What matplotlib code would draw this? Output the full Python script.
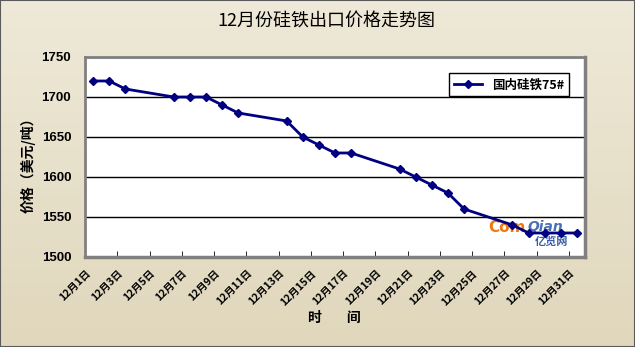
import numpy as np
import matplotlib
matplotlib.use('Agg')
import matplotlib.pyplot as plt
from matplotlib.ticker import FixedLocator, FixedFormatter
import matplotlib.transforms as mtransforms

plt.rcParams['font.family'] = ['Noto Sans CJK SC', 'DejaVu Sans']

# data
days = [1, 2, 3, 6, 7, 8, 9, 10, 13, 14, 15, 16, 17, 20, 21, 22, 23, 24, 27, 28, 29, 30, 31]
prices = [1720, 1720, 1710, 1700, 1700, 1700, 1690, 1680, 1670, 1650, 1640, 1630, 1630,
          1610, 1600, 1590, 1580, 1560, 1540, 1530, 1530, 1530, 1530]
label_days = list(range(1, 32, 2))
tick_labels = ['12月%d日' % d for d in label_days]
series_name = '国内硅铁75#'

fig = plt.figure(figsize=(6.35, 3.47), dpi=100)

# beige gradient background
bg = fig.add_axes([0, 0, 1, 1], zorder=-10)
top = np.array([238, 233, 216]) / 255
bot = np.array([224, 215, 188]) / 255
t = np.linspace(0, 1, 200)[:, None]
grad = (top * (1 - t) + bot * t)[:, None, :].repeat(2, axis=1)
bg.imshow(grad, aspect='auto', extent=[0, 1, 0, 1])
bg.set_xlim(0, 1)
bg.set_ylim(0, 1)
bg.set_axis_off()
bg.add_patch(plt.Rectangle((0, 0), 1, 1, fill=False, edgecolor='#5a5a5a', lw=1.5,
                           transform=bg.transAxes, clip_on=False))

ax = fig.add_axes([0.1339, 0.2594, 0.7874, 0.5764])
ax.set_facecolor('white')
ax.plot(days, prices, color='#000080', lw=2, marker='D', markersize=4,
        label=series_name, zorder=3)

ax.set_xlim(0.5, 31.5)
ax.set_ylim(1500, 1750)
ax.set_yticks([1500, 1550, 1600, 1650, 1700, 1750])
ax.yaxis.grid(True, color='black', lw=1)
ax.set_axisbelow(True)
ax.tick_params(axis='y', length=0, pad=10)
for lab in ax.get_yticklabels():
    lab.set_family('Liberation Sans')
    lab.set_fontweight('bold')
    lab.set_fontsize(9.5)

ax.xaxis.set_major_locator(FixedLocator(label_days))
ax.xaxis.set_major_formatter(FixedFormatter(tick_labels))
ax.xaxis.set_minor_locator(FixedLocator(np.arange(2.5, 31, 2)))
ax.tick_params(axis='x', which='major', length=0, pad=8)
ax.tick_params(axis='x', which='minor', length=4, direction='in', color='black')
offset = mtransforms.ScaledTranslation(-8 / 100, 0, fig.dpi_scale_trans)
for lab in ax.get_xticklabels():
    lab.set_rotation(45)
    lab.set_ha('right')
    lab.set_va('top')
    lab.set_rotation_mode('anchor')
    lab.set_fontsize(7.5)
    lab.set_fontweight('bold')
    lab.set_transform(lab.get_transform() + offset)

for side in ['left', 'top']:
    ax.spines[side].set_color('#808080')
    ax.spines[side].set_linewidth(2)
for side in ['right', 'bottom']:
    ax.spines[side].set_color('#808080')
    ax.spines[side].set_linewidth(2.5)

leg = ax.legend(loc='upper right', bbox_to_anchor=(0.98, 0.95), fancybox=False,
                frameon=True, edgecolor='black', framealpha=1, borderpad=0.4,
                handlelength=2.2, prop={'weight': 'bold', 'size': 9})
leg.get_frame().set_linewidth(1)

# watermark logo
ax.text(0.806, 0.125, 'Com', transform=ax.transAxes, color='#f07810', fontsize=11,
        fontweight='bold', family='DejaVu Sans', zorder=2)
ax.text(0.885, 0.13, 'Qian', transform=ax.transAxes, color='#4a6fb5', fontsize=10,
        fontstyle='italic', fontweight='bold', family='DejaVu Sans', zorder=2)
ax.text(0.9, 0.06, '亿览网', transform=ax.transAxes, color='#3a5fa8', fontsize=8,
        fontweight='bold', zorder=2)

fig.text(326 / 635, 1 - 22 / 347, '12月份硅铁出口价格走势图', ha='center', va='center',
         fontsize=13)
fig.text(28 / 635, 1 - 162 / 347, '价格（美元/吨）', rotation=90, ha='center',
         va='center', fontsize=10, fontweight='bold')
fig.text(334 / 635, 1 - 318 / 347, '时        间', ha='center', va='center',
         fontsize=10, fontweight='bold')

fig.savefig('out.png', dpi=100)
